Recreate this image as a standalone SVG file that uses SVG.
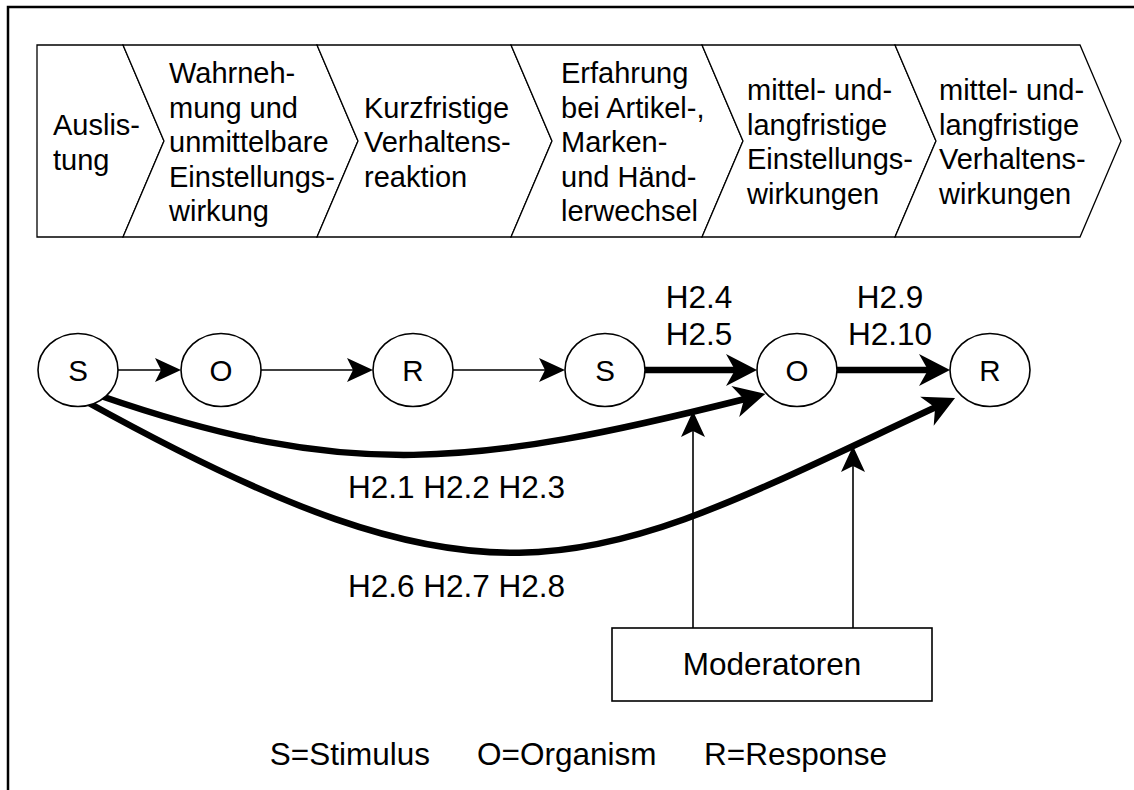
<svg xmlns="http://www.w3.org/2000/svg" width="1134" height="790" viewBox="0 0 1134 790">
  <style>
    text { font-family: "Liberation Sans", Arial, Helvetica, sans-serif; font-size: 31.5px; fill: #000; }
    .phase text { font-size: 29px; }
    .mid { text-anchor: middle; }
    .end { text-anchor: end; }
    .letter { font-size: 29.5px; text-anchor: middle; }
    .chev { fill: #fff; stroke: #000; stroke-width: 1.3; stroke-linejoin: miter; }
    .node { fill: #fff; stroke: #000; stroke-width: 1.6; }
    .thin { fill: none; stroke: #000; stroke-width: 1.6; }
    .thick { fill: none; stroke: #000; stroke-width: 6.5; stroke-linecap: butt; }
    .frame { fill: none; stroke: #000; stroke-width: 2.5; }
  </style>
  <defs>
    <marker id="headThin" markerUnits="userSpaceOnUse" viewBox="-8 -13 28 26" refX="0" refY="0" markerWidth="28" markerHeight="26" orient="auto" overflow="visible">
      <path d="M19,0 L-7,-12 L-1,0 L-7,12 Z" fill="#000"/>
    </marker>
    <marker id="headThick" markerUnits="userSpaceOnUse" viewBox="-11 -17 33 34" refX="0" refY="0" markerWidth="33" markerHeight="34" orient="auto" overflow="visible">
      <path d="M21,0 L-10,-16 L-1,0 L-10,16 Z" fill="#000"/>
    </marker>
  </defs>

  <rect width="1134" height="790" fill="#fff"/>
  <!-- outer frame (continues past the right and bottom edges) -->
  <path class="frame" d="M8,790 V7 H1134"/>

  <!-- process chevrons -->
  <g id="phase-auslistung" class="phase">
    <path class="chev" d="M37,45 H123 L164,141 L123,237 H37 Z"/>
    <text x="53" y="135">Auslis-</text>
    <text x="53" y="169.5">tung</text>
  </g>
  <g id="phase-wahrnehmung" class="phase">
    <path class="chev" d="M123,45 H317 L358,141 L317,237 H123 L164,141 Z"/>
    <text x="169" y="83">Wahrneh-</text>
    <text x="169" y="117.5">mung und</text>
    <text x="169" y="152">unmittelbare</text>
    <text x="169" y="186.5">Einstellungs-</text>
    <text x="169" y="221">wirkung</text>
  </g>
  <g id="phase-kurzfristig" class="phase">
    <path class="chev" d="M317,45 H511 L552,141 L511,237 H317 L358,141 Z"/>
    <text x="364" y="117.5">Kurzfristige</text>
    <text x="364" y="152">Verhaltens-</text>
    <text x="364" y="186.5">reaktion</text>
  </g>
  <g id="phase-erfahrung" class="phase">
    <path class="chev" d="M511,45 H702 L743,141 L702,237 H511 L552,141 Z"/>
    <text x="561" y="83">Erfahrung</text>
    <text x="561" y="117.5">bei Artikel-,</text>
    <text x="561" y="152">Marken-</text>
    <text x="561" y="186.5">und Händ-</text>
    <text x="561" y="221">lerwechsel</text>
  </g>
  <g id="phase-einstellung-lang" class="phase">
    <path class="chev" d="M702,45 H895 L936,141 L895,237 H702 L743,141 Z"/>
    <text x="747" y="100">mittel- und-</text>
    <text x="747" y="134.5">langfristige</text>
    <text x="747" y="169">Einstellungs-</text>
    <text x="747" y="203.5">wirkungen</text>
  </g>
  <g id="phase-verhalten-lang" class="phase">
    <path class="chev" d="M895,45 H1080 L1121,141 L1080,237 H895 L936,141 Z"/>
    <text x="939" y="100">mittel- und-</text>
    <text x="939" y="134.5">langfristige</text>
    <text x="939" y="169">Verhaltens-</text>
    <text x="939" y="203.5">wirkungen</text>
  </g>

  <!-- connectors -->
  <g id="connectors">
    <path class="thin" d="M118,370 H162" marker-end="url(#headThin)"/>
    <path class="thin" d="M261,370 H354" marker-end="url(#headThin)"/>
    <path class="thin" d="M453,370 H546" marker-end="url(#headThin)"/>
    <path class="thick" d="M645,370 H736" marker-end="url(#headThick)"/>
    <path class="thick" d="M837,370 H929" marker-end="url(#headThick)"/>
    <path class="thick" d="M101,396 C347,481 474,467 745,399" marker-end="url(#headThick)"/>
    <path class="thick" d="M87,402 C507,635 593,567 936,407" marker-end="url(#headThick)"/>
    <path class="thin" d="M693,628 V430" marker-end="url(#headThin)"/>
    <path class="thin" d="M853,628 V465" marker-end="url(#headThin)"/>
  </g>

  <!-- connector labels -->
  <g id="labels">
    <text class="mid" x="699" y="308">H2.4</text>
    <text class="mid" x="699" y="345">H2.5</text>
    <text class="mid" x="890" y="308">H2.9</text>
    <text class="mid" x="890" y="345">H2.10</text>
    <text x="348" y="498">H2.1 H2.2 H2.3</text>
    <text x="348" y="597">H2.6 H2.7 H2.8</text>
  </g>

  <!-- S-O-R nodes -->
  <g id="node-s1"><ellipse class="node" cx="78" cy="370" rx="40" ry="36.5"/><text class="letter" x="78" y="381">S</text></g>
  <g id="node-o1"><ellipse class="node" cx="221" cy="370" rx="40" ry="36.5"/><text class="letter" x="221" y="381">O</text></g>
  <g id="node-r1"><ellipse class="node" cx="413" cy="370" rx="40" ry="36.5"/><text class="letter" x="413" y="381">R</text></g>
  <g id="node-s2"><ellipse class="node" cx="605" cy="370" rx="40" ry="36.5"/><text class="letter" x="605" y="381">S</text></g>
  <g id="node-o2"><ellipse class="node" cx="797" cy="370" rx="40" ry="36.5"/><text class="letter" x="797" y="381">O</text></g>
  <g id="node-r2"><ellipse class="node" cx="990" cy="370" rx="40" ry="36.5"/><text class="letter" x="990" y="381">R</text></g>

  <g id="node-moderatoren">
    <rect x="612" y="628" width="320" height="73" fill="#fff" stroke="#000" stroke-width="1.6"/>
    <text class="mid" x="772" y="675">Moderatoren</text>
  </g>

  <!-- legend -->
  <g id="legend">
    <text class="end" x="430" y="765">S=Stimulus</text>
    <text x="477" y="765">O=Organism</text>
    <text x="704" y="765">R=Response</text>
  </g>
</svg>
